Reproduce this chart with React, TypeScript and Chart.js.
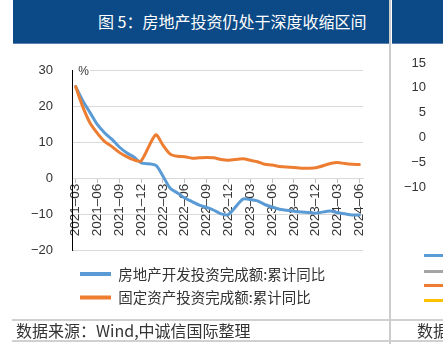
import React, { useEffect, useRef } from 'react';
import { Chart, registerables } from 'chart.js';

Chart.register(...registerables);

// ---------- data ----------
const categories = [
  '2021-03', '2021-04', '2021-05', '2021-06', '2021-07', '2021-08', '2021-09', '2021-10', '2021-11', '2021-12',
  '2022-01', '2022-02', '2022-03', '2022-04', '2022-05', '2022-06', '2022-07', '2022-08', '2022-09', '2022-10', '2022-11', '2022-12',
  '2023-01', '2023-02', '2023-03', '2023-04', '2023-05', '2023-06', '2023-07', '2023-08', '2023-09', '2023-10', '2023-11', '2023-12',
  '2024-01', '2024-02', '2024-03', '2024-04', '2024-05', '2024-06',
];

const realEstateInvestYoY = [
  25.6, 21.6, 18.3, 15.0, 12.7, 10.9, 8.8, 7.2, 6.0, 4.4,
  null, 3.7, 0.7, -2.7, -4.0, -5.4, -6.4, -7.4, -8.0, -8.8, -9.8, -10.0,
  null, -5.7, -5.8, -6.2, -7.2, -7.9, -8.5, -8.8, -9.1, -9.3, -9.4, -9.6,
  null, -9.0, -9.5, -9.8, -10.1, -10.1,
];

const fixedAssetInvestYoY = [
  25.6, 19.9, 15.4, 12.6, 10.3, 8.9, 7.3, 6.1, 5.2, 4.9,
  null, 12.2, 9.3, 6.8, 6.2, 6.1, 5.7, 5.8, 5.9, 5.8, 5.3, 5.1,
  null, 5.5, 5.1, 4.7, 4.0, 3.8, 3.4, 3.2, 3.1, 2.9, 2.9, 3.0,
  null, 4.2, 4.5, 4.2, 4.0, 3.9,
];

const seriesNames = ['房地产开发投资完成额:累计同比', '固定资产投资完成额:累计同比'];
const seriesColors = ['#5B9BD5', '#ED7D31'];

const yAxisRange = { min: -20, max: 30, step: 10 };
const xLabelEvery = 3;
const unitLabel = '%';

const rightAxisRange = { min: -10, max: 15, step: 5 };
const rightLegendColors = ['#5B9BD5', '#A5A5A5', '#ED7D31', '#FFC000'];

const titleText = '图 5：房地产投资仍处于深度收缩区间';
const sourceText = '数据来源：Wind,中诚信国际整理';

// ---------- styles ----------
const NUM_FONT = '"Liberation Sans", Arial, sans-serif';
const CJK_FONT = '"Noto Sans CJK SC", "Noto Sans", sans-serif';
const BANNER = '#0B4A86';

const minusFix = (v: any) => String(v).replace('-', '\u2212');

export default function App() {
  const mainRef = useRef<HTMLCanvasElement | null>(null);
  const rightRef = useRef<HTMLCanvasElement | null>(null);

  useEffect(() => {
    const unitPlugin = {
      id: 'unitLabel',
      afterDraw(chart: any) {
        const { ctx, chartArea } = chart;
        ctx.save();
        ctx.fillStyle = '#ffffff';
        ctx.fillRect(chartArea.left + 1, chartArea.top - 2, 17, 5);
        ctx.fillStyle = '#333333';
        ctx.font = `12px ${NUM_FONT}`;
        ctx.textAlign = 'center';
        ctx.textBaseline = 'middle';
        ctx.fillText(unitLabel, chartArea.left + 11.5, chartArea.top + 1);
        ctx.restore();
      },
    };
    const legendShift = {
      id: 'legendShift',
      afterLayout(chart: any) {
        const l = chart.legend;
        if (l) {
          l.top += 7.25;
          l.bottom += 7.25;
          l.left -= 1;
        }
      },
    };

    const main = new Chart(mainRef.current as HTMLCanvasElement, {
      type: 'line',
      data: {
        labels: categories,
        datasets: [
          {
            label: seriesNames[0],
            data: realEstateInvestYoY,
            borderColor: seriesColors[0],
            backgroundColor: seriesColors[0],
            borderWidth: 3,
            pointRadius: 0,
            tension: 0.25,
            spanGaps: true,
            borderCapStyle: 'round',
            borderJoinStyle: 'round',
            order: 2,
          },
          {
            label: seriesNames[1],
            data: fixedAssetInvestYoY,
            borderColor: seriesColors[1],
            backgroundColor: seriesColors[1],
            borderWidth: 3,
            pointRadius: 0,
            tension: 0.25,
            spanGaps: true,
            borderCapStyle: 'round',
            borderJoinStyle: 'round',
            order: 1,
          },
        ],
      },
      options: {
        responsive: false,
        animation: false,
        layout: { padding: { left: 0, top: 20, right: 26, bottom: 12.5 } },
        scales: {
          x: {
            type: 'category',
            position: { y: 0 },
            offset: true,
            grid: { display: true, drawOnChartArea: false, drawTicks: true, tickLength: 4, color: '#bfbfbf' },
            border: { display: true, color: '#d9d9d9', width: 1 },
            ticks: {
              autoSkip: false,
              maxRotation: 90,
              minRotation: 90,
              padding: 1,
              color: '#333333',
              font: { family: NUM_FONT, size: 13.5 },
              callback: (_v: any, i: number) => (i % xLabelEvery === 0 ? categories[i].replace('-', '\u2013') : null),
            },
          },
          y: {
            min: yAxisRange.min,
            max: yAxisRange.max,
            grid: { color: '#d9d9d9', drawTicks: false },
            border: { display: true, color: '#000000', width: 1 },
            ticks: {
              stepSize: yAxisRange.step,
              padding: 19,
              color: '#333333',
              font: { family: NUM_FONT, size: 13 },
              callback: (v: any) => minusFix(v),
            },
            afterFit: (s: any) => {
              s.width = 59;
            },
          },
        },
        plugins: {
          legend: {
            position: 'bottom',
            align: 'start',
            fullSize: false,
            labels: {
              boxWidth: 31,
              boxHeight: 4,
              padding: 9,
              color: '#333333',
              font: { family: CJK_FONT, size: 14.5 },
              sort: (a: any, b: any) => a.datasetIndex - b.datasetIndex,
              generateLabels: (chart: any) =>
                (Chart.defaults.plugins.legend.labels as any)
                  .generateLabels(chart)
                  .map((l: any) => ({ ...l, lineWidth: 0 })),
            },
          },
          tooltip: { enabled: false },
        },
      } as any,
      plugins: [unitPlugin, legendShift],
    } as any);

    const right = new Chart(rightRef.current as HTMLCanvasElement, {
      type: 'line',
      data: { labels: [], datasets: [] },
      options: {
        responsive: false,
        animation: false,
        layout: { padding: { left: 0, top: 19, right: 0, bottom: 13 } },
        scales: {
          x: { display: false },
          y: {
            min: rightAxisRange.min,
            max: rightAxisRange.max,
            grid: { display: false },
            border: { display: false },
            ticks: {
              stepSize: rightAxisRange.step,
              padding: 3,
              color: '#333333',
              font: { family: NUM_FONT, size: 13 },
              callback: (v: any) => minusFix(v),
            },
            afterFit: (s: any) => {
              s.width = 45;
            },
          },
        },
        plugins: { legend: { display: false }, tooltip: { enabled: false } },
      } as any,
    } as any);

    return () => {
      main.destroy();
      right.destroy();
    };
  }, []);

  const abs = (l: number, t: number, w: number, h: number, extra: any = {}) => ({
    position: 'absolute' as const,
    left: l,
    top: t,
    width: w,
    height: h,
    ...extra,
  });

  return (
    <div style={abs(0, 0, 443, 344, { background: '#ffffff', overflow: 'hidden' })}>
      {/* title banners */}
      <div style={abs(13, 0, 376, 43, { background: BANNER, borderBottom: '1px solid #5a7fb0' })} />
      <div
        style={abs(98, 0, 290, 43, {
          color: '#ffffff',
          fontFamily: CJK_FONT,
          fontSize: 16,
          lineHeight: '43px',
          whiteSpace: 'nowrap',
        })}
      >
        {titleText}
      </div>
      <div style={abs(392, 0, 51, 43, { background: BANNER, borderBottom: '1px solid #5a7fb0' })} />
      {/* divider */}
      <div style={abs(389, 0, 2, 344, { background: '#cccccc' })} />

      {/* main chart */}
      <canvas ref={mainRef} width={376} height={276} style={abs(13, 44, 376, 276)} />

      {/* right partial chart */}
      <canvas ref={rightRef} width={51} height={156} style={abs(392, 44, 51, 156)} />
      {rightLegendColors.map((c, i) => (
        <div key={c} style={abs(424, [253.5, 269.5, 283.5, 298.5][i], 19, 3, { background: c })} />
      ))}

      {/* footer */}
      <div style={abs(12, 319, 431, 2, { background: '#d0d0d0' })} />
      <div style={abs(12, 340, 431, 2, { background: '#d0d0d0' })} />
      <div
        style={abs(16, 320, 370, 21, {
          fontFamily: CJK_FONT,
          fontSize: 16,
          lineHeight: '21px',
          color: '#333333',
          whiteSpace: 'nowrap',
        })}
      >
        {sourceText}
      </div>
      <div
        style={abs(417, 320, 26, 21, {
          fontFamily: CJK_FONT,
          fontSize: 16,
          lineHeight: '21px',
          color: '#333333',
          whiteSpace: 'nowrap',
          overflow: 'hidden',
        })}
      >
        {sourceText}
      </div>
    </div>
  );
}
